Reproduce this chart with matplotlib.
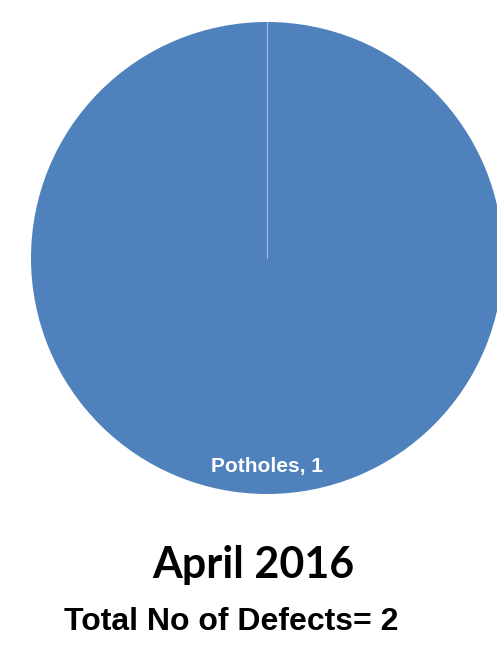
import matplotlib
matplotlib.use("Agg")
import matplotlib.pyplot as plt
import numpy as np

# Defect counts for the month
categories = ["Potholes"]
counts = [1]
month_label = "April 2016"
total_defects = 2

W, H = 497, 648
fig = plt.figure(figsize=(W / 100, H / 100), dpi=100)

# pie centre and radius in pixels (from top-left)
cx, cy, r = 267, 258, 236
ax = fig.add_axes([(cx - r) / W, (H - cy - r) / H, 2 * r / W, 2 * r / H])
wedges, _ = ax.pie(counts, labels=[f"{c}, {v}" for c, v in zip(categories, counts)],
                   colors=["#4F81BD"], startangle=90, counterclock=False,
                   labeldistance=0.885, radius=1,
                   wedgeprops=dict(linewidth=0),
                   textprops=dict(color="white", fontweight="bold", fontsize=15,
                                  family="Liberation Sans", ha="center", va="center"))

# a full-circle wedge has no radial edge, so draw the slice boundary
for w in wedges:
    a = np.deg2rad(w.theta1)
    ax.plot([w.center[0], w.center[0] + w.r * np.cos(a)],
            [w.center[1], w.center[1] + w.r * np.sin(a)],
            color="#A7BEDF", lw=0.8)

ax.set_xlim(-1, 1)
ax.set_ylim(-1, 1)
ax.set_axis_off()

fig.text(253 / W, 1 - 565 / H, month_label, ha="center", va="center",
         fontsize=31, fontweight="bold", family="Lato")
fig.text(231 / W, 1 - 622 / H, f"Total No of Defects= {total_defects}",
         ha="center", va="center", fontsize=23, fontweight="bold",
         family="Liberation Sans")

fig.savefig("out.png", dpi=100)
